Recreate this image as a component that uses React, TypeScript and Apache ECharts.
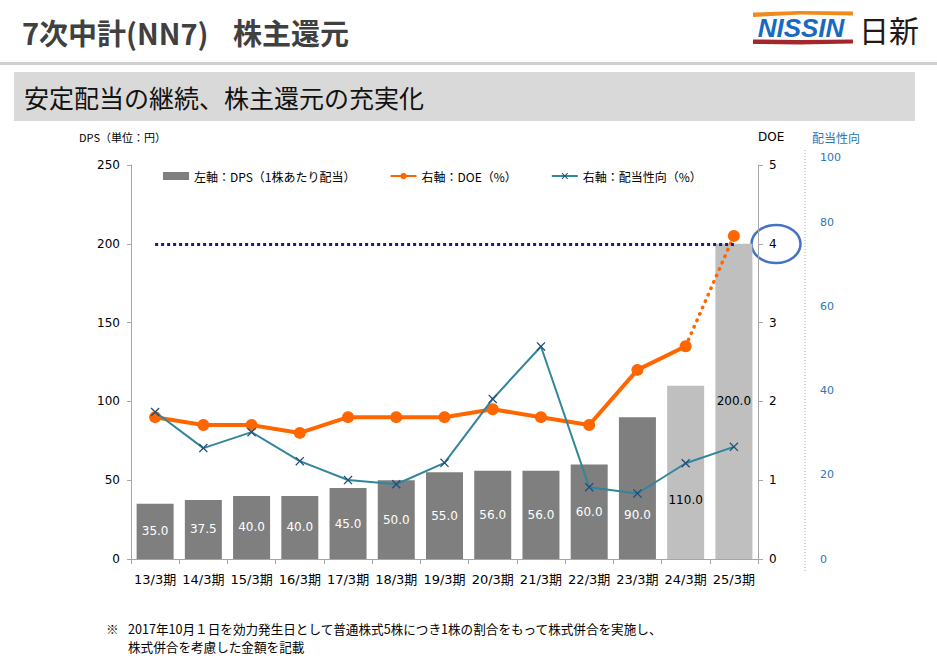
import React, { useEffect, useRef } from 'react';
import * as echarts from 'echarts';

const categories = ['13/3期', '14/3期', '15/3期', '16/3期', '17/3期', '18/3期', '19/3期', '20/3期', '21/3期', '22/3期', '23/3期', '24/3期', '25/3期'];
const dpsValues = [35, 37.5, 40, 40, 45, 50, 55, 56, 56, 60, 90, 110, 200];
const doeValues = [1.8, 1.7, 1.7, 1.6, 1.8, 1.8, 1.8, 1.9, 1.8, 1.7, 2.4, 2.7, 4.1];
const payoutValues = [35.0, 26.4, 30.2, 23.3, 18.8, 17.8, 22.9, 38.1, 50.6, 17.1, 15.6, 22.8, 26.7];
const planStartIndex = 11; // 24/3期 onward: plan values
const doeTarget = 4;
const legendNames = ['左軸：DPS（1株あたり配当）', '右軸：DOE（%）', '右軸：配当性向（%）'];
const footnoteLines = [
  '2017年10月１日を効力発生日として普通株式5株につき1株の割合をもって株式併合を実施し、',
  '株式併合を考慮した金額を記載',
];

const NUM_FONT = "'DejaVu Sans', 'Noto Sans CJK JP', sans-serif";
const JP_FONT = "'Noto Sans CJK JP', sans-serif";

const xMarkPath = 'path://M0,1L1,0L5,4L9,0L10,1L6,5L10,9L9,10L5,6L1,10L0,9L4,5Z';

export default function App() {
  const ref = useRef<HTMLDivElement>(null);
  useEffect(() => {
    if (!ref.current) return;
    const chart = echarts.init(ref.current, null, { renderer: 'svg' });

    const barData = dpsValues.map((v, i) => {
      const item: any = { value: v };
      if (i >= planStartIndex) {
        item.itemStyle = { color: '#bfbfbf' };
        item.label = { color: '#000' };
      }
      if (i === 10) item.label = { position: ['50%', '69%'], align: 'center', verticalAlign: 'middle' };
      if (i === 11) item.label = { color: '#000', position: ['50%', '66%'], align: 'center', verticalAlign: 'middle' };
      return item;
    });

    const doeSolid = doeValues.map((v, i) => (i <= planStartIndex ? v : '-'));
    const doePlan = doeValues.map((v, i) => {
      if (i < planStartIndex) return '-';
      if (i === planStartIndex) return { value: v, symbol: 'none' };
      return v;
    });

    const option: any = {
      animation: false,
      backgroundColor: '#fff',
      textStyle: { fontFamily: JP_FONT },
      grid: { left: 131, right: 179, top: 165, bottom: 97, containLabel: false },
      legend: {
        left: 158,
        top: 165,
        itemWidth: 26,
        itemHeight: 8,
        itemGap: 34,
        textStyle: { fontSize: 12, color: '#000', fontFamily: JP_FONT },
        data: [
          { name: legendNames[0], icon: 'rect' },
          { name: legendNames[1] },
          { name: legendNames[2] },
        ],
      },
      xAxis: {
        type: 'category',
        data: categories,
        axisLine: { lineStyle: { color: '#a6a6a6', width: 1 } },
        axisTick: { show: true, length: 5, lineStyle: { color: '#a6a6a6' } },
        axisLabel: { color: '#000', fontSize: 13, fontFamily: NUM_FONT, margin: 14, interval: 0 },
        splitLine: { show: false },
      },
      yAxis: [
        {
          type: 'value',
          min: 0,
          max: 250,
          interval: 50,
          position: 'left',
          axisLine: { show: true, lineStyle: { color: '#a6a6a6' } },
          axisTick: { show: true, length: 4, lineStyle: { color: '#a6a6a6' } },
          axisLabel: { color: '#000', fontSize: 12, fontFamily: NUM_FONT, margin: 11 },
          splitLine: { show: false },
        },
        {
          type: 'value',
          min: 0,
          max: 5,
          interval: 1,
          position: 'right',
          axisLine: { show: true, lineStyle: { color: '#a6a6a6' } },
          axisTick: { show: true, length: 5, lineStyle: { color: '#a6a6a6' } },
          axisLabel: { color: '#000', fontSize: 12, fontFamily: NUM_FONT, margin: 11 },
          splitLine: { show: false },
        },
        {
          type: 'value',
          min: 0,
          max: 93.8,
          interval: 20,
          position: 'right',
          offset: 55,
          axisLine: { show: false },
          axisTick: { show: false },
          axisLabel: {
            color: '#2e75b6',
            fontSize: 11,
            fontFamily: NUM_FONT,
            margin: 7,
            showMaxLabel: false,
            formatter: (v: number) => (v % 20 === 0 ? String(v) : ''),
          },
          splitLine: { show: false },
        },
      ],
      series: [
        {
          name: legendNames[0],
          type: 'bar',
          yAxisIndex: 0,
          barWidth: 37,
          itemStyle: { color: '#7f7f7f' },
          label: {
            show: true,
            position: 'inside',
            color: '#fff',
            fontSize: 12,
            fontFamily: NUM_FONT,
            formatter: (p: any) => Number(p.value).toFixed(1),
          },
          data: barData,
          z: 1,
        },
        {
          name: legendNames[1],
          type: 'line',
          yAxisIndex: 1,
          data: doeSolid,
          symbol: 'circle',
          symbolSize: 12,
          lineStyle: { color: '#ff6600', width: 4 },
          itemStyle: { color: '#ff6600' },
          z: 3,
          markLine: {
            silent: true,
            symbol: ['none', 'none'],
            label: { show: false },
            lineStyle: { color: '#1c1c80', type: [3, 3], width: 3 },
            data: [[{ coord: [categories[0], doeTarget] }, { coord: [categories[categories.length - 1], doeTarget] }]],
          },
        },
        {
          name: 'DOE（計画）',
          type: 'line',
          yAxisIndex: 1,
          data: doePlan,
          symbol: 'circle',
          symbolSize: 12,
          lineStyle: { color: '#ff6600', width: 3.5, type: [0.5, 6.5], cap: 'round' },
          itemStyle: { color: '#ff6600' },
          z: 4,
        },
        {
          name: legendNames[2],
          type: 'line',
          yAxisIndex: 2,
          data: payoutValues,
          symbol: xMarkPath,
          symbolSize: 9,
          lineStyle: { color: '#31859c', width: 2 },
          itemStyle: { color: '#1f4e79' },
          z: 5,
        },
      ],
      graphic: [
        // header title
        { type: 'text', x: 22, y: 32, style: { text: '7次中計(NN7)', fill: '#404040', fontSize: 29, fontWeight: 'bold', fontFamily: JP_FONT, verticalAlign: 'middle' } },
        { type: 'text', x: 233, y: 32, style: { text: '株主還元', fill: '#404040', fontSize: 29, fontWeight: 'bold', fontFamily: JP_FONT, verticalAlign: 'middle' } },
        // separator
        { type: 'rect', shape: { x: 0, y: 62, width: 937, height: 3 }, style: { fill: '#d0d0d0' } },
        // banner
        { type: 'rect', shape: { x: 14, y: 72, width: 901, height: 49 }, style: { fill: '#d9d9d9' } },
        { type: 'text', x: 24, y: 97, style: { text: '安定配当の継続、株主還元の充実化', fill: '#111', fontSize: 25, fontFamily: JP_FONT, verticalAlign: 'middle' } },
        // logo
        { type: 'polygon', shape: { points: [[753, 12.5], [800, 11], [853, 11.5], [853, 15.5], [800, 14.5], [753, 17]] }, style: { fill: '#f08a1c' } },
        { type: 'polygon', shape: { points: [[753, 39.5], [800, 40], [853, 39.5], [853, 43.5], [800, 44.5], [753, 44]] }, style: { fill: '#a3282e' } },
        { type: 'text', x: 801, y: 27.5, style: { text: 'NISSIN', fill: '#1769c2', fontSize: 26, fontWeight: 'bold', fontStyle: 'italic', fontFamily: "'Liberation Sans', sans-serif", align: 'center', verticalAlign: 'middle' } },
        { type: 'text', x: 859, y: 29, style: { text: '日新', fill: '#231815', fontSize: 30, fontFamily: JP_FONT, verticalAlign: 'middle' } },
        // axis names
        { type: 'text', x: 79, y: 137, style: { text: 'DPS（単位：円）', fill: '#000', fontSize: 11, fontFamily: JP_FONT, verticalAlign: 'middle' } },
        { type: 'text', x: 758, y: 137, style: { text: 'DOE', fill: '#000', fontSize: 12, fontFamily: NUM_FONT, verticalAlign: 'middle' } },
        { type: 'text', x: 812, y: 137, style: { text: '配当性向', fill: '#2e75b6', fontSize: 12, fontFamily: JP_FONT, verticalAlign: 'middle' } },
        { type: 'text', x: 820, y: 157, style: { text: '100', fill: '#2e75b6', fontSize: 11, fontFamily: NUM_FONT, verticalAlign: 'middle' } },
        // payout axis dotted line
        { type: 'line', shape: { x1: 805, y1: 150, x2: 805, y2: 573 }, style: { stroke: '#a6a6a6', lineWidth: 1, lineDash: [1, 2] } },
        // circle highlighting DOE 4
        { type: 'ellipse', shape: { cx: 776, cy: 244, rx: 24.5, ry: 19 }, style: { fill: 'none', stroke: '#4472c4', lineWidth: 2.5 } },
        // footnote
        { type: 'text', x: 106, y: 628, style: { text: '※', fill: '#000', fontSize: 12.6, fontFamily: JP_FONT, verticalAlign: 'middle' } },
        { type: 'text', x: 128, y: 628, style: { text: footnoteLines[0], fill: '#000', fontSize: 12.6, fontFamily: JP_FONT, verticalAlign: 'middle' } },
        { type: 'text', x: 128, y: 646.5, style: { text: footnoteLines[1], fill: '#000', fontSize: 12.6, fontFamily: JP_FONT, verticalAlign: 'middle' } },
      ],
    };

    chart.setOption(option);
    return () => chart.dispose();
  }, []);

  return <div ref={ref} style={{ position: 'absolute', left: 0, top: 0, width: 937, height: 656, background: '#fff' }} />;
}
